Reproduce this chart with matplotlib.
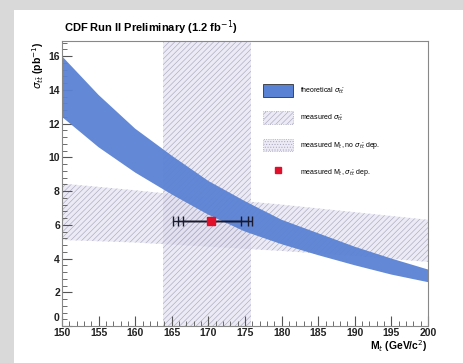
import numpy as np
import matplotlib
matplotlib.use('Agg')
import matplotlib.pyplot as plt
from matplotlib.patches import Patch, Rectangle
from matplotlib.lines import Line2D
from matplotlib.ticker import MultipleLocator, FuncFormatter

# Top mass grid (GeV/c^2)
mt = [150, 155, 160, 165, 170, 175, 180, 185, 190, 195, 200]

# Theoretical cross section band (pb)
theory_hi = [16.0, 13.7, 11.7, 10.1, 8.6, 7.4, 6.3, 5.5, 4.7, 4.0, 3.35]
theory_lo = [12.4, 10.6, 9.1, 7.8, 6.6, 5.6, 4.85, 4.2, 3.6, 3.05, 2.6]

# Measured cross section band vs assumed top mass (pb)
meas_mt = [150, 160, 170, 180, 190, 200]
meas_hi = [8.45, 8.05, 7.6, 7.2, 6.75, 6.3]
meas_lo = [5.1, 4.95, 4.7, 4.45, 4.15, 3.8]

# Measured top mass band, no cross-section dependence
mt_band = [163.75, 175.8]

# Measured top mass using the cross-section dependence
mt_fit = 170.4
sigma_fit = 6.2
mt_err_lo = [3.9, 4.55, 5.2]
mt_err_hi = [4.1, 5.0, 5.6]

plt.rcParams['font.family'] = ['Liberation Sans', 'DejaVu Sans']
plt.rcParams['hatch.linewidth'] = 0.45
plt.rcParams['hatch.color'] = '#aaa8c0'

fig = plt.figure(figsize=(4.64, 3.63), dpi=100)
fig.patch.set_facecolor('#d9d9d9')
fig.add_artist(Rectangle((14 / 464, 0), 1, 1 - 10 / 363, transform=fig.transFigure,
                         facecolor='white', edgecolor='none', zorder=-10))

ax = fig.add_axes([62 / 464, 37 / 363, 366 / 464, 285 / 363])

band_face = (0.86, 0.85, 0.93, 0.5)
hatch_col = '#aaa8c0'
ax.fill_betweenx([0, 17], mt_band[0], mt_band[1], facecolor=band_face,
                 hatch='//////', edgecolor=hatch_col, linewidth=0, zorder=1)
ax.fill_between(meas_mt, meas_lo, meas_hi, facecolor=band_face,
                hatch='//////', edgecolor=hatch_col, linewidth=0, zorder=1)
ax.fill_between(mt, theory_lo, theory_hi, facecolor='#5a82d4', edgecolor='none',
                alpha=0.95, zorder=2)

# Nested horizontal error bars on the fitted mass
for lo, hi in zip(mt_err_lo, mt_err_hi):
    ax.errorbar([mt_fit], [sigma_fit], xerr=[[lo], [hi]], fmt='none',
                ecolor='#1a1a2e', elinewidth=1.0, capsize=3.5, capthick=1.0, zorder=3)
ax.plot([mt_fit], [sigma_fit], 's', color='#e0102a', markersize=6, zorder=4)

ax.set_xlim(150, 200)
ax.set_ylim(0, 16.9)
ax.xaxis.set_major_locator(MultipleLocator(5))
ax.xaxis.set_minor_locator(MultipleLocator(1))
ax.yaxis.set_major_locator(MultipleLocator(2))
ax.yaxis.set_minor_locator(MultipleLocator(0.4))
# the zero label is drawn by hand, a little higher, so it clears the 150
ax.yaxis.set_major_formatter(FuncFormatter(lambda v, p: '' if v == 0 else f'{v:g}'))
ax.tick_params(which='both', direction='in', colors='#555555', labelcolor='#222222',
               top=False, right=False)
ax.tick_params(which='major', length=7, labelsize=7.5, pad=1.5)
ax.tick_params(which='minor', length=3.5)
for lab in ax.get_xticklabels() + ax.get_yticklabels():
    lab.set_fontweight('bold')
for sp in ax.spines.values():
    sp.set_color('#888888')
    sp.set_linewidth(0.8)
ax.text(-0.006, 0.45, '0', transform=ax.get_yaxis_transform(), ha='right', va='center',
        fontsize=7.5, fontweight='bold', color='#222222')

ax.set_xlabel(r'M$_{t}$ (GeV/c$^{2}$)', fontsize=7.5, fontweight='bold',
              loc='right', labelpad=0)
ax.set_ylabel(r'$\sigma_{t\bar{t}}$ (pb$^{-1}$)', fontsize=7.5, fontweight='bold',
              loc='top', labelpad=2)
fig.text(64 / 464, 1 - 28 / 363, r'CDF Run II Preliminary (1.2 fb$^{-1}$)',
         fontsize=8, fontweight='bold', va='center', ha='left')

handles = [
    Patch(facecolor='#5a82d4', edgecolor='#333333', linewidth=0.6),
    Patch(facecolor=band_face, hatch='//////', edgecolor=hatch_col, linestyle=':', linewidth=0.6),
    Patch(facecolor=band_face, hatch='......', edgecolor=hatch_col, linestyle=':', linewidth=0.6),
    Line2D([], [], marker='s', color='#e0102a', linestyle='none', markersize=4.5),
]
labels = [
    r'theoretical $\sigma_{t\bar{t}}$',
    r'measured $\sigma_{t\bar{t}}$',
    r'measured M$_t$, no $\sigma_{t\bar{t}}$ dep.',
    r'measured M$_t$, $\sigma_{t\bar{t}}$ dep.',
]
ax.legend(handles, labels, loc='upper left', bbox_to_anchor=(0.541, 0.86),
          frameon=False, fontsize=5, handlelength=4.3, handleheight=2.4,
          labelspacing=2.1, handletextpad=1.0, borderpad=0)

fig.savefig('out.png', dpi=100)
